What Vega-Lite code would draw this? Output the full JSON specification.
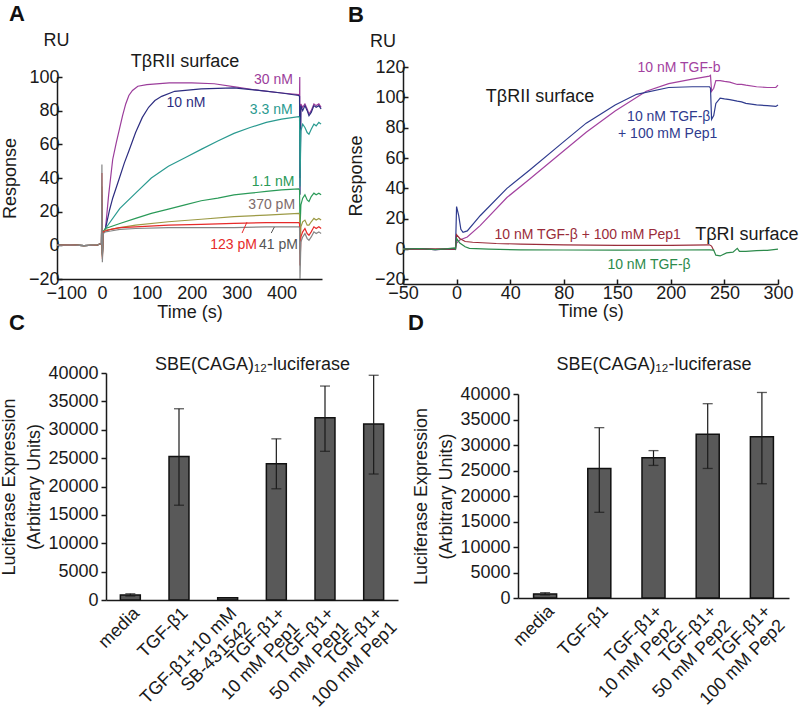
{
  "$schema": "https://vega.github.io/schema/vega-lite/v6.json",
  "padding": {"left": 0, "top": 2, "right": 0, "bottom": 0},
  "config": {
    "font": "Liberation Sans",
    "view": {"stroke": null},
    "axis": {"labelFont": "Liberation Sans", "titleFont": "Liberation Sans", "labelFontSize": 18, "titleFontSize": 18, "titleFontWeight": "normal", "labelColor": "#1a1a1a", "titleColor": "#1a1a1a", "domainColor": "#1a1a1a", "tickColor": "#1a1a1a", "domainWidth": 1.5, "tickWidth": 1.5, "grid": false, "labelOverlap": false, "labelFlush": false},
    "title": {"font": "Liberation Sans", "color": "#111111"}
  },
  "datasets": {
    "a": [
      {"s":"30 nM","t":-100,"r":0},{"s":"30 nM","t":-70,"r":0.3},{"s":"30 nM","t":-40,"r":-0.2},{"s":"30 nM","t":-10,"r":0.2},{"s":"30 nM","t":-3,"r":1},{"s":"30 nM","t":-1,"r":0.4},
      {"s":"30 nM","t":0,"r":30},{"s":"30 nM","t":1,"r":-5},{"s":"30 nM","t":3,"r":8},{"s":"30 nM","t":8,"r":10},{"s":"30 nM","t":15,"r":30},{"s":"30 nM","t":24,"r":51},{"s":"30 nM","t":32,"r":61},{"s":"30 nM","t":39,"r":69},{"s":"30 nM","t":46,"r":77},{"s":"30 nM","t":53,"r":84},{"s":"30 nM","t":60,"r":89},{"s":"30 nM","t":68,"r":92},{"s":"30 nM","t":80,"r":94.5},{"s":"30 nM","t":100,"r":95.5},{"s":"30 nM","t":150,"r":96.5},{"s":"30 nM","t":200,"r":96.5},{"s":"30 nM","t":250,"r":96},{"s":"30 nM","t":300,"r":94},{"s":"30 nM","t":350,"r":92},{"s":"30 nM","t":400,"r":90.5},{"s":"30 nM","t":438,"r":89.5},{"s":"30 nM","t":440,"r":89},{"s":"30 nM","t":440.5,"r":100},{"s":"30 nM","t":441,"r":40},{"s":"30 nM","t":443,"r":84},{"s":"30 nM","t":447,"r":82},{"s":"30 nM","t":452,"r":84},{"s":"30 nM","t":457,"r":81},{"s":"30 nM","t":461,"r":78},{"s":"30 nM","t":466,"r":80},{"s":"30 nM","t":472,"r":84},{"s":"30 nM","t":477,"r":83},{"s":"30 nM","t":483,"r":84},{"s":"30 nM","t":488,"r":82},
      {"s":"10 nM","t":-100,"r":0},{"s":"10 nM","t":-70,"r":0.3},{"s":"10 nM","t":-40,"r":-0.2},{"s":"10 nM","t":-10,"r":0.2},{"s":"10 nM","t":-3,"r":1},{"s":"10 nM","t":-1,"r":0.4},
      {"s":"10 nM","t":0,"r":25},{"s":"10 nM","t":1,"r":-6},{"s":"10 nM","t":3,"r":8},{"s":"10 nM","t":8,"r":10},{"s":"10 nM","t":17,"r":21},{"s":"10 nM","t":24,"r":28},{"s":"10 nM","t":39,"r":40},{"s":"10 nM","t":50,"r":49},{"s":"10 nM","t":60,"r":56},{"s":"10 nM","t":75,"r":67},{"s":"10 nM","t":90,"r":76},{"s":"10 nM","t":104,"r":82},{"s":"10 nM","t":118,"r":86},{"s":"10 nM","t":133,"r":88.5},{"s":"10 nM","t":162,"r":91.5},{"s":"10 nM","t":221,"r":93},{"s":"10 nM","t":294,"r":93.5},{"s":"10 nM","t":350,"r":92},{"s":"10 nM","t":400,"r":90.5},{"s":"10 nM","t":438,"r":89},{"s":"10 nM","t":440,"r":88.5},{"s":"10 nM","t":441,"r":30},{"s":"10 nM","t":443,"r":83},{"s":"10 nM","t":447,"r":80},{"s":"10 nM","t":452,"r":83},{"s":"10 nM","t":457,"r":80},{"s":"10 nM","t":461,"r":77},{"s":"10 nM","t":466,"r":79},{"s":"10 nM","t":472,"r":83},{"s":"10 nM","t":477,"r":82},{"s":"10 nM","t":483,"r":83},{"s":"10 nM","t":488,"r":81},
      {"s":"3.3 nM","t":-100,"r":0},{"s":"3.3 nM","t":-70,"r":0.3},{"s":"3.3 nM","t":-40,"r":-0.2},{"s":"3.3 nM","t":-10,"r":0.2},{"s":"3.3 nM","t":-3,"r":1},{"s":"3.3 nM","t":-1,"r":0.4},
      {"s":"3.3 nM","t":0,"r":20},{"s":"3.3 nM","t":1,"r":-5},{"s":"3.3 nM","t":3,"r":8},{"s":"3.3 nM","t":8,"r":10},{"s":"3.3 nM","t":40,"r":22},{"s":"3.3 nM","t":75,"r":31},{"s":"3.3 nM","t":110,"r":40},{"s":"3.3 nM","t":148,"r":47},{"s":"3.3 nM","t":185,"r":52},{"s":"3.3 nM","t":221,"r":57},{"s":"3.3 nM","t":258,"r":62},{"s":"3.3 nM","t":294,"r":66.5},{"s":"3.3 nM","t":330,"r":70},{"s":"3.3 nM","t":366,"r":73},{"s":"3.3 nM","t":400,"r":75},{"s":"3.3 nM","t":438,"r":76.5},{"s":"3.3 nM","t":440,"r":76},{"s":"3.3 nM","t":441,"r":35},{"s":"3.3 nM","t":443,"r":68},{"s":"3.3 nM","t":447,"r":72},{"s":"3.3 nM","t":452,"r":70},{"s":"3.3 nM","t":457,"r":67},{"s":"3.3 nM","t":461,"r":66},{"s":"3.3 nM","t":466,"r":69},{"s":"3.3 nM","t":472,"r":72},{"s":"3.3 nM","t":477,"r":71},{"s":"3.3 nM","t":483,"r":73},{"s":"3.3 nM","t":488,"r":72},
      {"s":"1.1 nM","t":-100,"r":0},{"s":"1.1 nM","t":-70,"r":0.3},{"s":"1.1 nM","t":-40,"r":-0.2},{"s":"1.1 nM","t":-10,"r":0.2},{"s":"1.1 nM","t":-3,"r":1},{"s":"1.1 nM","t":-1,"r":0.4},
      {"s":"1.1 nM","t":0,"r":25},{"s":"1.1 nM","t":1,"r":-6},{"s":"1.1 nM","t":3,"r":8},{"s":"1.1 nM","t":8,"r":10},{"s":"1.1 nM","t":40,"r":13},{"s":"1.1 nM","t":75,"r":16},{"s":"1.1 nM","t":110,"r":19},{"s":"1.1 nM","t":148,"r":21.5},{"s":"1.1 nM","t":185,"r":24},{"s":"1.1 nM","t":221,"r":26.5},{"s":"1.1 nM","t":258,"r":28},{"s":"1.1 nM","t":294,"r":30},{"s":"1.1 nM","t":330,"r":31},{"s":"1.1 nM","t":366,"r":32},{"s":"1.1 nM","t":400,"r":33},{"s":"1.1 nM","t":438,"r":33.5},{"s":"1.1 nM","t":440,"r":33},{"s":"1.1 nM","t":441,"r":10},{"s":"1.1 nM","t":443,"r":24},{"s":"1.1 nM","t":447,"r":28},{"s":"1.1 nM","t":452,"r":30},{"s":"1.1 nM","t":457,"r":27},{"s":"1.1 nM","t":461,"r":26},{"s":"1.1 nM","t":466,"r":29},{"s":"1.1 nM","t":472,"r":31},{"s":"1.1 nM","t":477,"r":30},{"s":"1.1 nM","t":483,"r":31},{"s":"1.1 nM","t":488,"r":30},
      {"s":"370 pM","t":-100,"r":0},{"s":"370 pM","t":-70,"r":0.3},{"s":"370 pM","t":-40,"r":-0.2},{"s":"370 pM","t":-10,"r":0.2},{"s":"370 pM","t":-3,"r":1},{"s":"370 pM","t":-1,"r":0.4},
      {"s":"370 pM","t":0,"r":35},{"s":"370 pM","t":1,"r":-7},{"s":"370 pM","t":3,"r":8},{"s":"370 pM","t":8,"r":9},{"s":"370 pM","t":20,"r":9.5},{"s":"370 pM","t":40,"r":10.5},{"s":"370 pM","t":75,"r":12},{"s":"370 pM","t":148,"r":14},{"s":"370 pM","t":221,"r":15.5},{"s":"370 pM","t":294,"r":17},{"s":"370 pM","t":366,"r":18},{"s":"370 pM","t":438,"r":19},{"s":"370 pM","t":440,"r":18.5},{"s":"370 pM","t":441,"r":-5},{"s":"370 pM","t":443,"r":11},{"s":"370 pM","t":447,"r":14},{"s":"370 pM","t":452,"r":15},{"s":"370 pM","t":457,"r":12},{"s":"370 pM","t":461,"r":12},{"s":"370 pM","t":466,"r":14},{"s":"370 pM","t":472,"r":16},{"s":"370 pM","t":477,"r":15},{"s":"370 pM","t":483,"r":16},{"s":"370 pM","t":488,"r":15},
      {"s":"123 pM","t":-100,"r":0},{"s":"123 pM","t":-70,"r":0.3},{"s":"123 pM","t":-40,"r":-0.2},{"s":"123 pM","t":-10,"r":0.2},{"s":"123 pM","t":-3,"r":1},{"s":"123 pM","t":-1,"r":0.4},
      {"s":"123 pM","t":0,"r":43},{"s":"123 pM","t":1,"r":-8},{"s":"123 pM","t":3,"r":8},{"s":"123 pM","t":8,"r":8.5},{"s":"123 pM","t":20,"r":9.5},{"s":"123 pM","t":40,"r":10.5},{"s":"123 pM","t":75,"r":11},{"s":"123 pM","t":148,"r":12},{"s":"123 pM","t":221,"r":12.5},{"s":"123 pM","t":294,"r":13},{"s":"123 pM","t":366,"r":13.5},{"s":"123 pM","t":438,"r":13.5},{"s":"123 pM","t":440,"r":13},{"s":"123 pM","t":441,"r":-12},{"s":"123 pM","t":443,"r":5},{"s":"123 pM","t":447,"r":8},{"s":"123 pM","t":452,"r":10},{"s":"123 pM","t":457,"r":7},{"s":"123 pM","t":461,"r":6},{"s":"123 pM","t":466,"r":8},{"s":"123 pM","t":472,"r":11},{"s":"123 pM","t":477,"r":10},{"s":"123 pM","t":483,"r":11},{"s":"123 pM","t":488,"r":10},
      {"s":"41 pM","t":-100,"r":0},{"s":"41 pM","t":-70,"r":0.3},{"s":"41 pM","t":-40,"r":-0.2},{"s":"41 pM","t":-10,"r":0.2},{"s":"41 pM","t":-3,"r":1},{"s":"41 pM","t":-1,"r":0.4},
      {"s":"41 pM","t":0,"r":48},{"s":"41 pM","t":1,"r":-10},{"s":"41 pM","t":3,"r":7},{"s":"41 pM","t":8,"r":8},{"s":"41 pM","t":20,"r":8.5},{"s":"41 pM","t":40,"r":9.5},{"s":"41 pM","t":75,"r":10},{"s":"41 pM","t":148,"r":10.5},{"s":"41 pM","t":221,"r":10.5},{"s":"41 pM","t":294,"r":10.5},{"s":"41 pM","t":366,"r":11},{"s":"41 pM","t":438,"r":11},{"s":"41 pM","t":440,"r":10.5},{"s":"41 pM","t":441,"r":-20},{"s":"41 pM","t":443,"r":2},{"s":"41 pM","t":447,"r":5},{"s":"41 pM","t":452,"r":7},{"s":"41 pM","t":457,"r":4},{"s":"41 pM","t":461,"r":3},{"s":"41 pM","t":466,"r":5},{"s":"41 pM","t":472,"r":8},{"s":"41 pM","t":477,"r":7},{"s":"41 pM","t":483,"r":8},{"s":"41 pM","t":488,"r":7}
    ],
    "aLab": [
      {"t":-101,"r":121.4,"label":"RU","col":"#1a1a1a","fs":18},
      {"t":185,"r":108.9,"label":"TβRII surface","col":"#1a1a1a","fs":18},
      {"t":382,"r":98.2,"label":"30 nM","col":"#9b3d9b","fs":14},
      {"t":187,"r":84.5,"label":"10 nM","col":"#2d2d80","fs":14},
      {"t":377,"r":80.4,"label":"3.3 nM","col":"#2a9a90","fs":14},
      {"t":381,"r":37.6,"label":"1.1 nM","col":"#2a9a58","fs":14},
      {"t":378,"r":24,"label":"370 pM","col":"#7d6b6b","fs":14},
      {"t":293,"r":0.2,"label":"123 pM","col":"#e62a2a","fs":14},
      {"t":393,"r":0.2,"label":"41 pM","col":"#555555","fs":14}
    ],
    "aLead": [
      {"t":312,"t2":323,"r":7.3,"r2":13.8,"col":"#e62a2a"},
      {"t":377,"t2":384,"r":7.3,"r2":10.9,"col":"#555555"}
    ],
    "b": [
      {"s":"TGF","t":-50,"r":0},{"s":"TGF","t":-35,"r":0.3},{"s":"TGF","t":-20,"r":-0.3},{"s":"TGF","t":-5,"r":0.2},{"s":"TGF","t":-1,"r":0},{"s":"TGF","t":0,"r":4},{"s":"TGF","t":3,"r":6},{"s":"TGF","t":10,"r":8},{"s":"TGF","t":22,"r":15.5},{"s":"TGF","t":47,"r":34},{"s":"TGF","t":68,"r":46},{"s":"TGF","t":97,"r":63},{"s":"TGF","t":121,"r":77},{"s":"TGF","t":148,"r":91},{"s":"TGF","t":177,"r":104},{"s":"TGF","t":198,"r":109},{"s":"TGF","t":220,"r":112},{"s":"TGF","t":236,"r":114},{"s":"TGF","t":237,"r":114.5},{"s":"TGF","t":238,"r":104},{"s":"TGF","t":240,"r":106},{"s":"TGF","t":242,"r":111},{"s":"TGF","t":246,"r":111},{"s":"TGF","t":250,"r":110.5},{"s":"TGF","t":255,"r":110},{"s":"TGF","t":262,"r":108.5},{"s":"TGF","t":266,"r":108.5},{"s":"TGF","t":270,"r":108},{"s":"TGF","t":280,"r":107},{"s":"TGF","t":290,"r":106.5},{"s":"TGF","t":298,"r":106.5},{"s":"TGF","t":300,"r":108},
      {"s":"TGF+Pep1","t":-50,"r":0},{"s":"TGF+Pep1","t":-35,"r":0.3},{"s":"TGF+Pep1","t":-20,"r":-0.3},{"s":"TGF+Pep1","t":-5,"r":0.2},{"s":"TGF+Pep1","t":-1,"r":0},{"s":"TGF+Pep1","t":0,"r":28},{"s":"TGF+Pep1","t":2,"r":22},{"s":"TGF+Pep1","t":4,"r":13},{"s":"TGF+Pep1","t":6,"r":11},{"s":"TGF+Pep1","t":10,"r":12},{"s":"TGF+Pep1","t":22,"r":22},{"s":"TGF+Pep1","t":47,"r":40},{"s":"TGF+Pep1","t":68,"r":52},{"s":"TGF+Pep1","t":97,"r":69},{"s":"TGF+Pep1","t":121,"r":83},{"s":"TGF+Pep1","t":148,"r":95},{"s":"TGF+Pep1","t":168,"r":102},{"s":"TGF+Pep1","t":198,"r":106.5},{"s":"TGF+Pep1","t":220,"r":107},{"s":"TGF+Pep1","t":236,"r":107},{"s":"TGF+Pep1","t":237,"r":106},{"s":"TGF+Pep1","t":238,"r":85.5},{"s":"TGF+Pep1","t":240,"r":88},{"s":"TGF+Pep1","t":242,"r":96},{"s":"TGF+Pep1","t":246,"r":99.5},{"s":"TGF+Pep1","t":250,"r":99},{"s":"TGF+Pep1","t":255,"r":98.5},{"s":"TGF+Pep1","t":262,"r":97.5},{"s":"TGF+Pep1","t":266,"r":97},{"s":"TGF+Pep1","t":270,"r":96},{"s":"TGF+Pep1","t":280,"r":95},{"s":"TGF+Pep1","t":290,"r":94.5},{"s":"TGF+Pep1","t":298,"r":94},{"s":"TGF+Pep1","t":300,"r":95},
      {"s":"RI TGF+Pep1","t":-50,"r":0},{"s":"RI TGF+Pep1","t":-20,"r":0.2},{"s":"RI TGF+Pep1","t":-1,"r":0},{"s":"RI TGF+Pep1","t":0,"r":9.5},{"s":"RI TGF+Pep1","t":3,"r":7},{"s":"RI TGF+Pep1","t":8,"r":5},{"s":"RI TGF+Pep1","t":15,"r":4.5},{"s":"RI TGF+Pep1","t":37,"r":3.7},{"s":"RI TGF+Pep1","t":60,"r":3.3},{"s":"RI TGF+Pep1","t":100,"r":2.8},{"s":"RI TGF+Pep1","t":150,"r":2.5},{"s":"RI TGF+Pep1","t":200,"r":2.5},{"s":"RI TGF+Pep1","t":236,"r":2.8},{"s":"RI TGF+Pep1","t":238,"r":2},{"s":"RI TGF+Pep1","t":240,"r":-1},
      {"s":"RI TGF","t":-50,"r":0},{"s":"RI TGF","t":-35,"r":0.4},{"s":"RI TGF","t":-20,"r":-0.3},{"s":"RI TGF","t":-8,"r":0.3},{"s":"RI TGF","t":-2,"r":0.8},{"s":"RI TGF","t":-1,"r":0},{"s":"RI TGF","t":0,"r":7},{"s":"RI TGF","t":3,"r":4},{"s":"RI TGF","t":8,"r":1.5},{"s":"RI TGF","t":12,"r":0.5},{"s":"RI TGF","t":30,"r":0},{"s":"RI TGF","t":60,"r":-0.5},{"s":"RI TGF","t":100,"r":-0.6},{"s":"RI TGF","t":150,"r":-0.7},{"s":"RI TGF","t":200,"r":-0.6},{"s":"RI TGF","t":236,"r":-0.5},{"s":"RI TGF","t":240,"r":-0.7},{"s":"RI TGF","t":242,"r":-4},{"s":"RI TGF","t":246,"r":-4.5},{"s":"RI TGF","t":252,"r":-2.5},{"s":"RI TGF","t":258,"r":-2},{"s":"RI TGF","t":262,"r":0.5},{"s":"RI TGF","t":264,"r":-1.5},{"s":"RI TGF","t":270,"r":-1.5},{"s":"RI TGF","t":280,"r":-1},{"s":"RI TGF","t":290,"r":-0.8},{"s":"RI TGF","t":300,"r":0}
    ],
    "bLab": [
      {"t":-68.7,"r":136.5,"label":"RU","col":"#1a1a1a","fs":18},
      {"t":77.9,"r":100.4,"label":"TβRII surface","col":"#1a1a1a","fs":18},
      {"t":207.6,"r":119.3,"label":"10 nM TGF-b","col":"#a3429f","fs":14},
      {"t":198,"r":86.8,"label":"10 nM TGF-β","col":"#2f3b8e","fs":14},
      {"t":197,"r":75.8,"label":"+ 100 mM Pep1","col":"#2f3b8e","fs":14},
      {"t":122.4,"r":9.1,"label":"10 nM TGF-β + 100 mM Pep1","col":"#9a2c3a","fs":14},
      {"t":271,"r":9.1,"label":"TβRI surface","col":"#1a1a1a","fs":18},
      {"t":179.6,"r":-10.7,"label":"10 nM TGF-β","col":"#2c8a4b","fs":14}
    ],
    "c": [
      {"cat":"media","mean":900,"lo":700,"hi":1100},
      {"cat":"TGF-β1","mean":25300,"lo":16700,"hi":33700},
      {"cat":"TGF-β1+10 mM\nSB-431542","mean":400,"lo":null,"hi":null},
      {"cat":"TGF-β1+\n10 mM Pep1","mean":24000,"lo":19600,"hi":28400},
      {"cat":"TGF-β1+\n50 mM Pep1","mean":32100,"lo":26200,"hi":37700},
      {"cat":"TGF-β1+\n100 mM Pep1","mean":31000,"lo":22200,"hi":39600}
    ],
    "d": [
      {"cat":"media","mean":800,"lo":600,"hi":1050},
      {"cat":"TGF-β1","mean":25400,"lo":16800,"hi":33400},
      {"cat":"TGF-β1+\n10 mM Pep2","mean":27500,"lo":26000,"hi":28900},
      {"cat":"TGF-β1+\n50 mM Pep2","mean":32100,"lo":25400,"hi":38100},
      {"cat":"TGF-β1+\n100 mM Pep2","mean":31600,"lo":22400,"hi":40300}
    ]
  },
  "bounds": "flush",
  "columns": 2,
  "spacing": {"row": 89, "column": 5},
  "concat": [
    {
      "title": {"text": "A", "anchor": "start", "frame": "group", "dx": -48, "fontSize": 22, "fontWeight": "bold", "offset": 6},
      "width": 265, "height": 212,
      "resolve": {"scale": {"color": "independent", "size": "independent"}},
      "layer": [
        {
          "data": {"name": "a"},
          "mark": {"type": "line", "strokeWidth": 1.2},
          "encoding": {
            "x": {"field": "t", "type": "quantitative", "scale": {"domain": [-100, 490], "nice": false, "zero": false}, "axis": {"title": "Time (s)", "values": [-100, 0, 100, 200, 300, 400], "ticks": false, "labelPadding": 5, "titlePadding": 1, "labelOverlap": false, "labelFlush": true, "labelFlushOffset": 11}},
            "y": {"field": "r", "type": "quantitative", "scale": {"domain": [-20, 100], "nice": false, "zero": false, "range": [212, 10]}, "axis": {"title": "Response", "tickCount": 7, "tickSize": -5, "labelPadding": 3, "titlePadding": 9, "labelOverlap": false, "labelSeparation": -40}},
            "color": {"field": "s", "type": "nominal", "sort": null, "scale": {"domain": ["30 nM", "10 nM", "3.3 nM", "1.1 nM", "370 pM", "123 pM", "41 pM"], "range": ["#9b3d9b", "#2d2d80", "#2a9a90", "#2a9a58", "#9c9a45", "#e62a2a", "#858585"]}, "legend": null}
          }
        },
        {
          "data": {"name": "aLead"},
          "mark": {"type": "rule", "strokeWidth": 1},
          "encoding": {
            "x": {"field": "t", "type": "quantitative"},
            "x2": {"field": "t2"},
            "y": {"field": "r", "type": "quantitative"},
            "y2": {"field": "r2"},
            "color": {"field": "col", "type": "nominal", "scale": null}
          }
        },
        {
          "data": {"name": "aLab"},
          "mark": {"type": "text", "baseline": "middle", "align": "center"},
          "encoding": {
            "x": {"field": "t", "type": "quantitative"},
            "y": {"field": "r", "type": "quantitative"},
            "text": {"field": "label"},
            "color": {"field": "col", "type": "nominal", "scale": null},
            "size": {"field": "fs", "type": "quantitative", "scale": null}
          }
        }
      ]
    },
    {
      "title": {"text": "B", "anchor": "start", "frame": "group", "dx": -55, "fontSize": 22, "fontWeight": "bold", "offset": 6},
      "width": 375, "height": 217,
      "resolve": {"scale": {"color": "independent", "size": "independent"}},
      "layer": [
        {
          "data": {"name": "b"},
          "mark": {"type": "line", "strokeWidth": 1.2},
          "encoding": {
            "x": {"field": "t", "type": "quantitative", "scale": {"domain": [-50, 300], "nice": false, "zero": false}, "axis": {"title": "Time (s)", "values": [-50, 0, 50, 100, 150, 200, 250, 300], "labelExpr": "datum.value == 50 ? '40' : datum.value == 100 ? '80' : datum.label", "tickSize": -5, "labelPadding": 5, "titlePadding": 0, "labelOverlap": false}},
            "y": {"field": "r", "type": "quantitative", "scale": {"domain": [-23, 120], "nice": false, "zero": false}, "axis": {"title": "Response", "tickCount": 8, "tickSize": -5, "labelPadding": 3, "titlePadding": 9, "labelOverlap": false, "labelSeparation": -40}},
            "color": {"field": "s", "type": "nominal", "sort": null, "scale": {"domain": ["TGF", "TGF+Pep1", "RI TGF+Pep1", "RI TGF"], "range": ["#a3429f", "#2f3b8e", "#9a2c3a", "#2c8a4b"]}, "legend": null}
          }
        },
        {
          "data": {"name": "bLab"},
          "mark": {"type": "text", "baseline": "middle", "align": "center"},
          "encoding": {
            "x": {"field": "t", "type": "quantitative"},
            "y": {"field": "r", "type": "quantitative"},
            "text": {"field": "label"},
            "color": {"field": "col", "type": "nominal", "scale": null},
            "size": {"field": "fs", "type": "quantitative", "scale": null}
          }
        }
      ]
    },
    {
      "title": {"text": "C", "anchor": "start", "frame": "group", "dx": -48, "fontSize": 22, "fontWeight": "bold", "offset": 20},
      "width": 341, "height": 227,
      "data": {"name": "c"},
      "resolve": {"axis": {"x": "independent"}},
      "layer": [
        {"mark": {"type": "bar", "fill": "#595959", "stroke": "#111111", "strokeWidth": 1.5},
         "encoding": {
           "x": {"field": "cat", "type": "nominal", "sort": null, "scale": {"range": [49, 341], "paddingInner": 0.59, "paddingOuter": 0.295}, "axis": {"title": null, "labelAngle": -45, "labelAlign": "right", "labelBaseline": "top", "ticks": false, "labelPadding": 4, "labelExpr": "split(datum.label, '\\n')", "labelLineHeight": 20, "labelOverlap": false}},
           "y": {"field": "mean", "type": "quantitative", "scale": {"domain": [0, 40000], "nice": false}, "axis": {"title": ["Luciferase Expression", "(Arbitrary Units)"], "titleLineHeight": 25, "tickCount": 8, "format": "d", "tickSize": 5, "labelPadding": 3, "titlePadding": 4, "offset": -49, "labelOverlap": false, "labelSeparation": -40}}}},
        {"mark": {"type": "rule", "strokeWidth": 1.2, "color": "#1a1a1a"},
         "encoding": {
           "x": {"field": "cat", "type": "nominal", "sort": null, "axis": {"orient": "top", "title": "SBE(CAGA)₁₂-luciferase", "labels": false, "ticks": false, "domain": false, "titlePadding": 0}},
           "y": {"field": "lo", "type": "quantitative"}, "y2": {"field": "hi"}}},
        {"mark": {"type": "tick", "size": 10, "thickness": 1.3, "color": "#1a1a1a"},
         "encoding": {"x": {"field": "cat", "type": "nominal", "sort": null, "axis": null}, "y": {"field": "lo", "type": "quantitative"}}},
        {"mark": {"type": "tick", "size": 10, "thickness": 1.3, "color": "#1a1a1a"},
         "encoding": {"x": {"field": "cat", "type": "nominal", "sort": null, "axis": null}, "y": {"field": "hi", "type": "quantitative"}}}
      ]
    },
    {
      "title": {"text": "D", "anchor": "start", "frame": "group", "dx": 5, "fontSize": 22, "fontWeight": "bold", "offset": 20},
      "width": 386, "height": 225,
      "data": {"name": "d"},
      "resolve": {"axis": {"x": "independent"}},
      "layer": [
        {"mark": {"type": "bar", "fill": "#595959", "stroke": "#111111", "strokeWidth": 1.5},
         "encoding": {
           "x": {"field": "cat", "type": "nominal", "sort": null, "scale": {"range": [115, 386], "paddingInner": 0.575, "paddingOuter": 0.2875}, "axis": {"title": null, "labelAngle": -45, "labelAlign": "right", "labelBaseline": "top", "ticks": false, "labelPadding": 4, "labelExpr": "split(datum.label, '\\n')", "labelLineHeight": 20, "labelOverlap": false}},
           "y": {"field": "mean", "type": "quantitative", "scale": {"domain": [0, 40000], "nice": false, "range": [225, 21]}, "axis": {"title": ["Luciferase Expression", "(Arbitrary Units)"], "titleLineHeight": 25, "tickCount": 8, "format": "d", "tickSize": 5, "labelPadding": 3, "titlePadding": 4, "offset": -115, "labelOverlap": false, "labelSeparation": -40}}}},
        {"mark": {"type": "rule", "strokeWidth": 1.2, "color": "#1a1a1a"},
         "encoding": {
           "x": {"field": "cat", "type": "nominal", "sort": null, "axis": {"orient": "top", "title": "SBE(CAGA)₁₂-luciferase", "labels": false, "ticks": false, "domain": false, "titlePadding": 0}},
           "y": {"field": "lo", "type": "quantitative"}, "y2": {"field": "hi"}}},
        {"mark": {"type": "tick", "size": 10, "thickness": 1.3, "color": "#1a1a1a"},
         "encoding": {"x": {"field": "cat", "type": "nominal", "sort": null, "axis": null}, "y": {"field": "lo", "type": "quantitative"}}},
        {"mark": {"type": "tick", "size": 10, "thickness": 1.3, "color": "#1a1a1a"},
         "encoding": {"x": {"field": "cat", "type": "nominal", "sort": null, "axis": null}, "y": {"field": "hi", "type": "quantitative"}}}
      ]
    }
  ]
}
